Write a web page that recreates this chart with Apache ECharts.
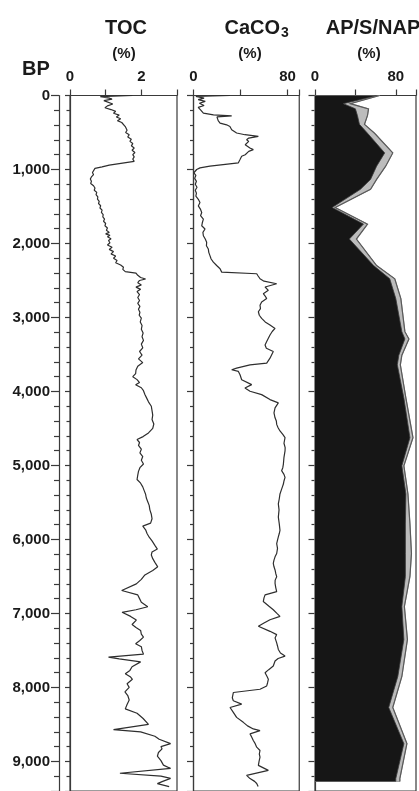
<!DOCTYPE html>
<html><head><meta charset="utf-8">
<script src="https://cdn.jsdelivr.net/npm/echarts@6/dist/echarts.min.js"></script>
<style>html,body{margin:0;padding:0;background:#fff}#c{width:419px;height:791px}</style>
</head><body><div id="c"></div>
<script>
// ---- DATA ----
const tocAge = [
  0,15,35,50,70,95,115,140,165,190,
  215,240,265,290,315,340,365,390,420,445,
  470,500,530,560,590,620,650,680,710,740,
  770,800,830,860,890,905,940,965,985,1010,
  1040,1070,1100,1130,1160,1190,1220,1250,1280,1310,
  1340,1370,1400,1430,1460,1490,1520,1550,1580,1610,
  1640,1670,1700,1730,1760,1790,1820,1850,1870,1890,
  1910,1935,1960,1990,2020,2050,2080,2110,2140,2170,
  2200,2230,2260,2290,2320,2350,2380,2400,2430,2460,
  2480,2500,2530,2560,2590,2620,2650,2690,2730,2770,
  2810,2850,2890,2930,2970,3010,3060,3110,3160,3210,
  3260,3310,3360,3410,3460,3510,3560,3610,3660,3710,
  3760,3800,3840,3880,3910,3950,3990,4040,4090,4140,
  4200,4260,4320,4380,4440,4500,4560,4610,4650,4690,
  4730,4780,4830,4880,4930,4980,5030,5080,5130,5190,
  5240,5290,5340,5390,5440,5490,5540,5600,5660,5720,
  5780,5820,5870,5920,5970,6020,6080,6130,6170,6210,
  6260,6310,6370,6420,6480,6540,6600,6690,6750,6800,
  6850,6910,6950,6985,7040,7090,7150,7190,7230,7280,
  7320,7370,7410,7450,7500,7550,7590,7615,7655,7720,
  7770,7815,7860,7890,7950,8000,8060,8110,8170,8230,
  8290,8350,8420,8500,8570,8600,8660,8700,8760,8800,
  8830,8880,8930,8990,9050,9095,9160,9200,9230,9270,
  9300,9340
];
const tocVal = [
  1.75,0.85,1.10,1.18,0.95,1.00,1.20,1.05,0.98,1.15,
  1.28,1.22,1.38,1.30,1.42,1.33,1.45,1.40,1.55,1.50,
  1.60,1.56,1.66,1.62,1.72,1.68,1.76,1.72,1.80,1.74,
  1.82,1.76,1.80,1.76,1.80,1.78,1.10,0.90,0.70,0.66,
  0.63,0.66,0.60,0.57,0.60,0.58,0.66,0.70,0.68,0.75,
  0.73,0.78,0.77,0.82,0.80,0.86,0.84,0.90,0.88,0.93,
  0.92,0.97,0.94,1.00,0.98,1.05,1.02,1.10,1.00,1.12,
  1.05,1.15,1.08,1.12,1.05,1.18,1.10,1.22,1.15,1.28,
  1.22,1.32,1.28,1.42,1.50,1.48,1.55,1.85,1.90,1.98,
  2.12,1.95,1.90,2.00,1.85,1.98,1.88,1.95,1.90,1.95,
  1.90,1.96,1.92,1.96,1.94,2.00,1.97,2.02,2.00,2.05,
  2.02,2.06,2.00,2.04,1.95,2.02,1.92,2.04,1.90,1.85,
  1.84,1.76,1.88,1.95,1.84,2.00,2.06,2.10,2.15,2.20,
  2.28,2.30,2.32,2.30,2.35,2.32,2.20,2.05,1.88,1.95,
  1.92,2.00,1.96,2.04,2.00,2.06,1.96,1.92,1.90,1.88,
  1.98,2.04,2.08,2.12,2.14,2.18,2.22,2.24,2.28,2.30,
  2.26,2.04,2.12,2.16,2.22,2.30,2.38,2.45,2.30,2.28,
  2.32,2.38,2.46,2.32,2.10,2.00,1.86,1.45,1.90,1.95,
  2.00,2.18,1.85,1.46,1.70,1.86,1.74,1.85,1.98,2.00,
  2.06,1.95,1.84,2.00,2.02,2.06,1.08,1.38,1.98,1.74,
  1.68,1.55,1.70,1.75,1.60,1.66,1.54,1.62,1.66,1.60,
  1.55,1.88,2.05,2.20,1.22,1.98,2.38,2.50,2.82,2.55,
  2.58,2.48,2.45,2.55,2.62,2.82,1.40,2.55,2.82,2.60,
  2.45,2.78
];
const caAge = [
  0,12,35,55,80,105,135,160,195,217,
  239,262,275,290,306,340,373,396,418,440,
  463,485,507,530,552,575,597,620,642,665,
  687,710,732,755,776,800,821,845,866,890,
  910,933,955,978,1000,1044,1080,1120,1160,1200,
  1240,1280,1320,1360,1403,1447,1492,1540,1581,1625,
  1671,1720,1761,1805,1850,1895,1940,1984,2030,2074,
  2120,2164,2210,2253,2298,2342,2387,2409,2440,2477,
  2510,2544,2588,2633,2678,2710,2745,2790,2834,2880,
  2923,2970,3013,3060,3103,3148,3190,3237,3282,3326,
  3372,3416,3461,3550,3617,3640,3685,3707,3729,3774,
  3841,3908,3953,3997,4043,4110,4154,4221,4290,4356,
  4400,4445,4490,4534,4580,4624,4700,4760,4803,4890,
  4982,5030,5071,5120,5161,5210,5251,5320,5385,5450,
  5519,5600,5698,5790,5877,5920,5966,6010,6056,6120,
  6190,6235,6280,6325,6370,6413,6460,6503,6550,6593,
  6650,6705,6749,6790,6839,6900,6950,7000,7040,7085,
  7130,7174,7242,7286,7331,7398,7440,7487,7535,7577,
  7610,7644,7711,7760,7801,7850,7890,7940,7980,8025,
  8069,8092,8140,8181,8226,8271,8338,8405,8472,8520,
  8561,8584,8628,8670,8718,8760,8808,8852,8900,8942,
  9000,9054,9121,9188,9232,9270,9299,9340
];
const caVal = [
  31,2,9,4,10,5,9,4,6,7,
  8.4,17,32.5,20,19.7,21,22.6,28.2,31,30,
  32.5,34,36.7,43.8,55.2,47,45.2,47,48.1,44,
  45.2,48,50.9,47,46.7,44,41,40,39.6,38,
  38.2,39.6,14,5.5,2.7,0.3,2,1,2.5,1.5,
  3,1.5,2.5,2,4.1,5.5,4.1,6,7,6,
  8.4,7.5,7,9.8,8,8.4,10,11.2,11,12.6,
  13,14,15,16.9,19.7,22.6,24,53.8,55,56.6,
  60,70.8,60.9,63.7,59.4,61,62.3,58,56.6,57,
  55.2,56,58,61,65.1,69.4,67,65.1,63.7,62.3,
  60.9,62,67.9,65.1,62.3,48.1,36.7,32.5,38.2,39.6,
  41,49.5,43.8,48.1,58,65.1,72.2,69.4,68.5,69.4,
  70.5,70.8,72,73.6,76,77.9,77,78,77.9,77,
  76.5,76,75,77,77.9,77,76.5,75,73.6,73,
  72.2,72.8,72.2,73,73.6,73,72.2,71.5,70.8,71.5,
  70.8,69.4,68.5,67.9,68.5,69.4,70,70.8,69.5,69.4,
  70,70.8,60.9,60,59.4,64,67.9,71,73.6,65.1,
  60,55.2,65.1,70.8,69.4,70.8,71.5,72.2,74,77.9,
  72,69.4,67.9,64,60.9,62.5,63.7,63,62.3,56.6,
  33.9,32.5,33,33.9,41,31.1,33.9,36.7,42.4,46,
  50.9,56.6,48.1,49.5,50.9,52.5,53.8,56.6,56,56.6,
  55.8,55.2,63.7,45.2,48.1,52,53.8,55
];
const polAge = [0,110,180,270,390,510,776,955,1134,1268,1514,1738,1940,2298,2477,2745,3192,3290,3510,3640,4090,4624,5004,5385,5790,6190,6500,6906,7353,7852,8271,8760,9232,9270];
const apPct  = [62,28,40,42,44,52,69,61,55,45,17,48,34,58,74,80,86,89,83,81.5,88,94,86,90,89.5,89.5,89.5,86,88,82,73,88,80,80];
const sPct   = [2,7,13,10,5,7,8,9,6,10,3,4,7,3,5,5,3,4,3,3,2,3,2,2,4.5,6,4.5,2.5,3.5,4,4,3,4,4];
const bpTicks = [0,1000,2000,3000,4000,5000,6000,7000,8000,9000];
const tocLabels = [0,2], caLabels = [0,80], apLabels = [0,80];

// ---- CHART ----
const FONT = '"Liberation Sans", Arial, Helvetica, sans-serif';
const AX = '#3a3a3a';
const TOP = 95.5, YMAX = 9400, PX = 0.0745;
const GH = YMAX * PX;

function grid(left, width) {
  return {left: left, top: TOP, width: width, height: GH, show: true, borderColor: AX, borderWidth: 1.2, backgroundColor: 'transparent'};
}
function xAx(gi, max, interval, shown) {
  return {type: 'value', gridIndex: gi, position: 'top', min: 0, max: max, interval: interval,
    axisLine: {show: true, lineStyle: {color: AX, width: 1.2}},
    axisTick: {show: true, length: 6, inside: false, lineStyle: {color: AX, width: 1.2}},
    splitLine: {show: false},
    axisLabel: {show: true, margin: 11, fontFamily: FONT, fontWeight: 'bold', fontSize: 15, color: '#1a1a1a',
      formatter: function (v) { return shown.indexOf(v) >= 0 ? String(v) : ''; }}};
}
function yAx(gi, tl, ml) {
  return {type: 'value', gridIndex: gi, inverse: true, min: 0, max: YMAX, interval: 1000, position: 'left',
    axisLine: {show: true, lineStyle: {color: AX, width: 1.2}},
    axisTick: {show: true, length: tl, lineStyle: {color: AX, width: 1.2}},
    minorTick: {show: true, splitNumber: 5, length: ml, lineStyle: {color: AX, width: 1.2}},
    axisLabel: {show: false}, splitLine: {show: false}, minorSplitLine: {show: false}};
}
const bpAxis = yAx(0, 8, 5);
bpAxis.offset = 11;
bpAxis.axisLabel = {show: true, margin: 9, fontFamily: FONT, fontWeight: 'bold', fontSize: 15, color: '#1a1a1a',
  showMaxLabel: false,
  formatter: function (v) { return bpTicks.indexOf(v) >= 0 ? v.toString().replace(/\B(?=(\d{3})+(?!\d))/g, ',') : ''; }};

const chart = echarts.init(document.getElementById('c'), null, {renderer: 'canvas'});
chart.setOption({
  animation: false,
  backgroundColor: '#fff',
  grid: [grid(70, 107), grid(193.5, 105.75), grid(315, 106.25)],
  xAxis: [xAx(0, 3, 1, tocLabels), xAx(1, 90, 40, caLabels), xAx(2, 100, 40, apLabels)],
  yAxis: [yAx(0, 5, 3.5), yAx(1, 6.5, 3.5), yAx(2, 6.5, 3.5), bpAxis],
  series: [
    {type: 'line', xAxisIndex: 0, yAxisIndex: 0, showSymbol: false, symbol: 'none',
      lineStyle: {color: '#2e2e2e', width: 1.2},
      data: tocAge.map(function (a, i) { return [tocVal[i], a]; })},
    {type: 'line', xAxisIndex: 1, yAxisIndex: 1, showSymbol: false, symbol: 'none',
      lineStyle: {color: '#2e2e2e', width: 1.2},
      data: caAge.map(function (a, i) { return [caVal[i], a]; })},
    {type: 'custom', xAxisIndex: 2, yAxisIndex: 2, encode: {x: 0, y: 1},
      data: polAge.map(function (a, i) { return [apPct[i] + sPct[i], a]; }),
      renderItem: function (params, api) {
        if (params.dataIndex !== 0) return null;
        const n = polAge.length;
        const gray = [api.coord([0, polAge[0]])];
        const black = [api.coord([0, polAge[0]])];
        const edge = [];
        const inner = [];
        for (let i = 0; i < n; i++) {
          const g = api.coord([apPct[i] + sPct[i], polAge[i]]);
          const b = api.coord([apPct[i], polAge[i]]);
          gray.push(g); black.push(b); edge.push(g); inner.push(b);
        }
        gray.push(api.coord([0, polAge[n - 1]]));
        black.push(api.coord([0, polAge[n - 1]]));
        return {type: 'group', children: [
          {type: 'polygon', shape: {points: gray}, style: {fill: '#bcbcbc', stroke: '#9a9a9a', lineWidth: 1}},
          {type: 'polygon', shape: {points: black}, style: {fill: '#161616'}},
          {type: 'polyline', shape: {points: inner}, style: {stroke: '#3a3a3a', lineWidth: 0.8, fill: null}},
          {type: 'polyline', shape: {points: edge}, style: {stroke: '#5a5a5a', lineWidth: 1.2, fill: null}}
        ]};
      }}
  ],
  graphic: [
    {type: 'text', x: 126, y: 28, style: {text: 'TOC', font: 'bold 20px ' + FONT, fill: '#1a1a1a', align: 'center', verticalAlign: 'middle'}},
    {type: 'text', x: 280, y: 28, style: {text: 'CaCO', font: 'bold 20px ' + FONT, fill: '#1a1a1a', align: 'right', verticalAlign: 'middle'}},
    {type: 'text', x: 281, y: 33, style: {text: '3', font: 'bold 14px ' + FONT, fill: '#1a1a1a', align: 'left', verticalAlign: 'middle'}},
    {type: 'text', x: 373, y: 28, style: {text: 'AP/S/NAP', font: 'bold 20px ' + FONT, fill: '#1a1a1a', align: 'center', verticalAlign: 'middle'}},
    {type: 'text', x: 124, y: 54, style: {text: '(%)', font: 'bold 15px ' + FONT, fill: '#1a1a1a', align: 'center', verticalAlign: 'middle'}},
    {type: 'text', x: 250, y: 54, style: {text: '(%)', font: 'bold 15px ' + FONT, fill: '#1a1a1a', align: 'center', verticalAlign: 'middle'}},
    {type: 'text', x: 369, y: 54, style: {text: '(%)', font: 'bold 15px ' + FONT, fill: '#1a1a1a', align: 'center', verticalAlign: 'middle'}},
    {type: 'text', x: 36, y: 69, style: {text: 'BP', font: 'bold 20px ' + FONT, fill: '#1a1a1a', align: 'center', verticalAlign: 'middle'}}
  ]
});
</script></body></html>
